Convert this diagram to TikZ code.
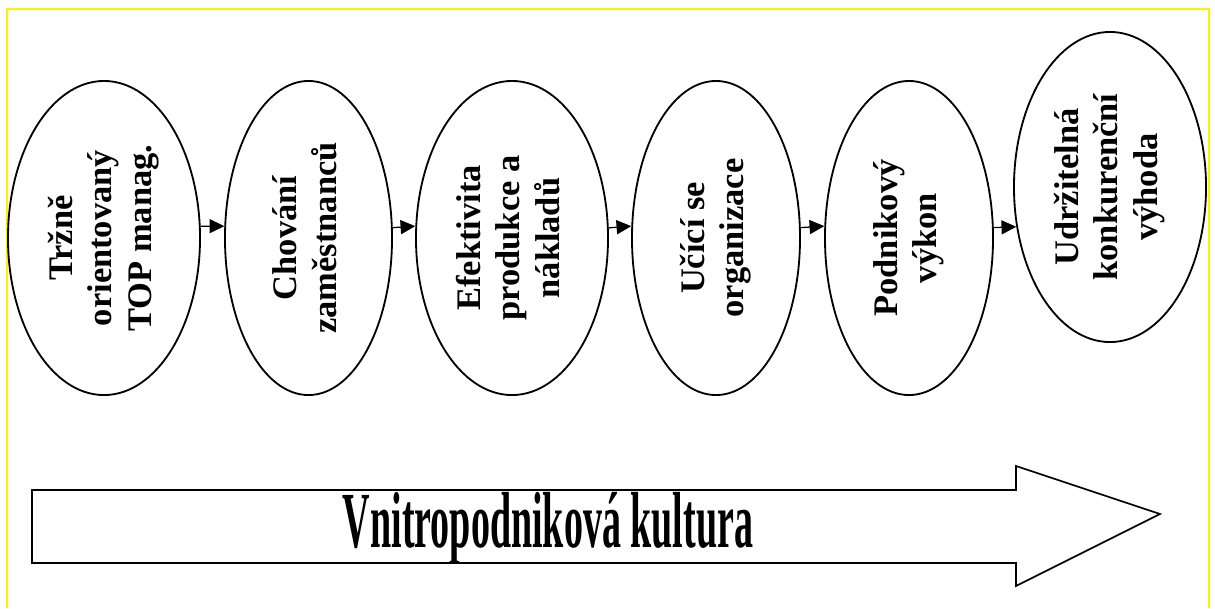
\documentclass[tikz,border=0pt]{standalone}
\usepackage{fontspec}
\setmainfont{Liberation Serif}
\usetikzlibrary{shapes.geometric,arrows.meta}
\newcommand{\vlabel}[1]{\rotatebox{90}{\begin{tabular}{@{}c@{}}#1\end{tabular}}}
\tikzset{
  stage/.style={draw, ellipse, line width=1.3pt, inner sep=0pt,
    minimum height=7.85cm, font=\fontsize{24.5}{28}\selectfont\bfseries},
  flow/.style={line width=0.9pt, -{Triangle[length=10.5pt,width=10pt]}},
}

\begin{document}
\begin{tikzpicture}[x=0.025cm, y=-0.025cm]
			%%%%% START %%%%%
			\useasboundingbox (0, 0) rectangle (1215, 608);
			
			\draw[line width=1.5pt, color=yellow] (7, 608) -- (7, 9) -- (1209, 9) -- (1209, 608);
			
			\node[stage, minimum width=4.8cm] (e1) at (104, 238) {\vlabel{Tržně\\orientovaný\\TOP manag.}};
			\node[stage, minimum width=4.175cm] (e2) at (308.5, 238) {\vlabel{Chování\\zaměstnanců}};
			\node[stage, minimum width=4.8cm] (e3) at (512, 238) {\vlabel{Efektivita\\produkce a\\nákladů}};
			\node[stage, minimum width=4.2cm] (e4) at (716, 238) {\vlabel{Učící se\\organizace}};
			\node[stage, minimum width=4.2cm] (e5) at (909, 238) {\vlabel{Podnikový\\výkon}};
			\node[stage, minimum width=4.8cm, minimum height=7.75cm] (e6) at (1110, 187) {\vlabel{Udržitelná\\konkurenční\\výhoda}};
			
			\draw[flow] (e1.7) -- (e2.172.5);
			\draw[flow] (e2.7.5) -- (e3.173.5);
			\draw[flow] (e3.6.5) -- (e4.172.5);
			\draw[flow] (e4.7.5) -- (e5.172.5);
			\draw[flow] (e5.7.5) -- (e6.203.3);
			
			\draw[line width=1.2pt] (32, 490) -- (1016, 490) -- (1016, 466) -- (1160, 514)
			  -- (1016, 586) -- (1016, 563) -- (32, 563) -- cycle;
			\node[anchor=base, inner sep=0pt] (culture) at (548, 547)
			  {\resizebox{10.25cm}{1.38cm}{\bfseries Vnitropodniková kultura}};
			
			%%%%% END %%%%%
		\end{tikzpicture}
\end{document}
